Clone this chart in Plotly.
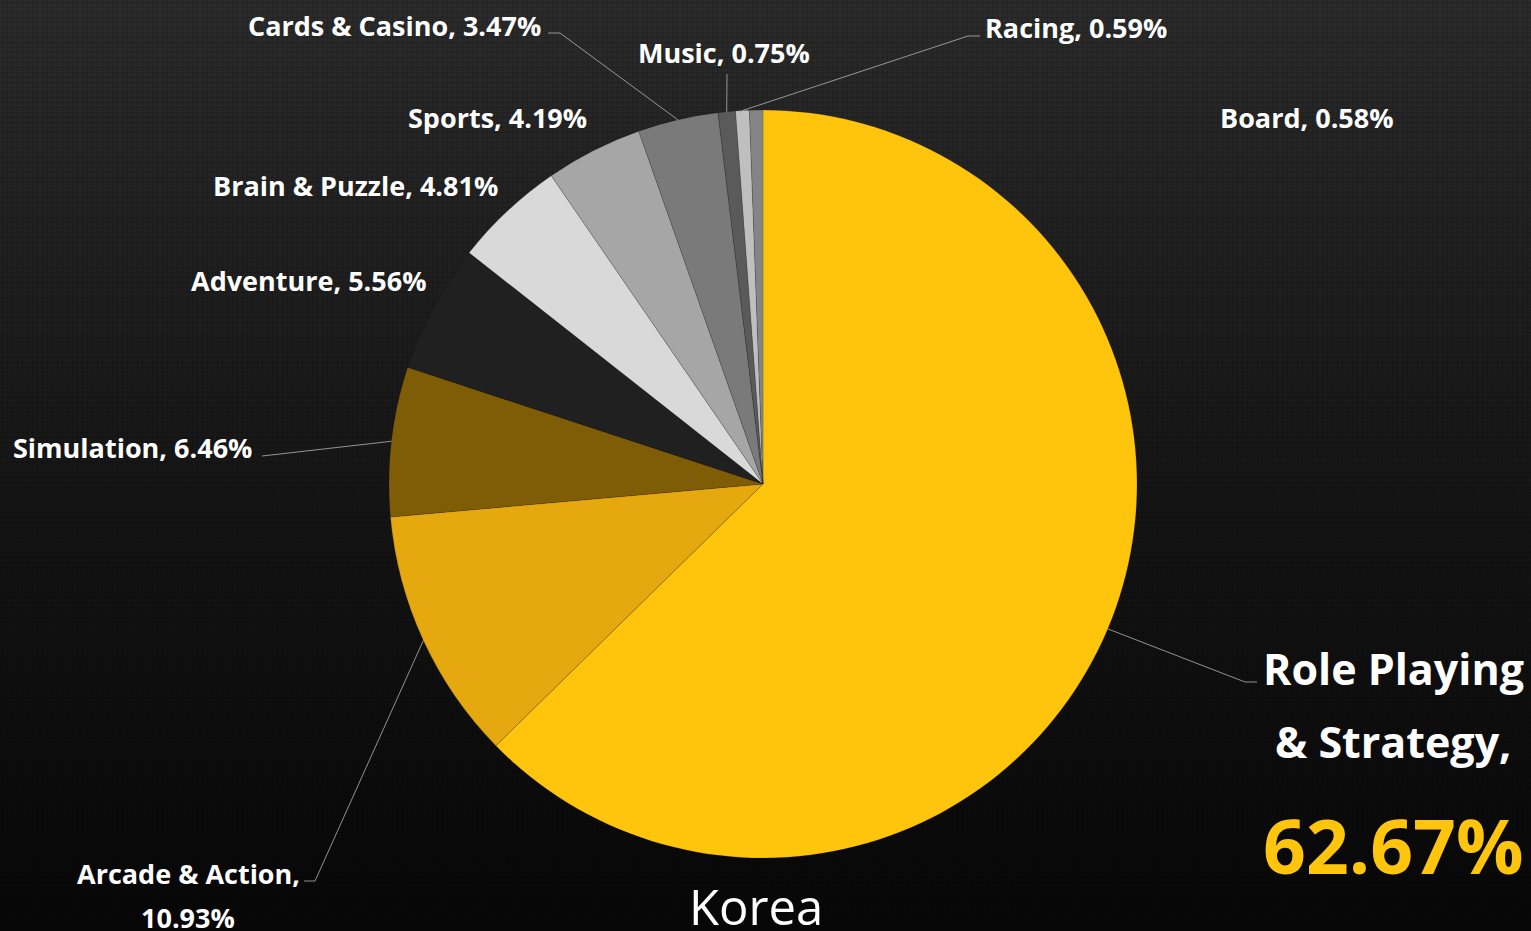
import math

import plotly.graph_objects as go

# data: share of game downloads by genre (Korea)
genres = ["Role Playing & Strategy", "Arcade & Action", "Simulation", "Adventure",
          "Brain & Puzzle", "Sports", "Cards & Casino", "Music", "Racing", "Board"]
shares = [62.67, 10.93, 6.46, 5.56, 4.81, 4.19, 3.47, 0.75, 0.59, 0.58]
colors = ["#FFC40C", "#E6A80F", "#7F5D07", "#202020", "#D9D9D9",
          "#A6A6A6", "#7A7A7A", "#5A5A5A", "#BFBFBF", "#858585"]
country = "Korea"

W, H = 1531, 931
CX, CY, R = 763, 484, 374  # pie centre / radius in pixels


def px(x):
    return x / W


def py(y):
    return 1 - y / H


# label placement (pixels): x, y, anchor ; leader: elbow, stub end
label_pos = {
    "Cards & Casino": (543, 26, "right", [(560, 33), (548, 33)]),
    "Music": (724, 52, "center", [(727, 74)]),
    "Racing": (983, 27, "left", [(968, 36), (980, 36)]),
    "Board": (1218, 117, "left", None),
    "Sports": (589, 118, "right", None),
    "Brain & Puzzle": (500, 186, "right", None),
    "Adventure": (429, 280, "right", None),
    "Simulation": (254, 447, "right", [(262, 456)]),
}

fig = go.Figure()

# dark gradient backdrop
fig.add_trace(go.Scatter(
    x=[0, 1, 1, 0, 0], y=[0, 0, 1, 1, 0], mode="lines", fill="toself",
    line=dict(width=0),
    fillgradient=dict(type="vertical",
                      colorscale=[[0, "#070707"], [0.45, "#141414"], [1, "#2b2b2b"]]),
    hoverinfo="skip", showlegend=False,
))
# fine grid texture on top of it
fig.add_trace(go.Scatter(
    x=[0, 1, 1, 0, 0], y=[0, 0, 1, 1, 0], mode="lines", fill="toself",
    line=dict(width=0), fillcolor="rgba(0,0,0,0)",
    fillpattern=dict(shape="+", fgcolor="rgba(0,0,0,0.45)", bgcolor="rgba(0,0,0,0)",
                     size=5, solidity=0.25),
    hoverinfo="skip", showlegend=False,
))

fig.add_trace(go.Pie(
    labels=genres, values=shares, sort=False, direction="clockwise", rotation=0,
    marker=dict(colors=colors, line=dict(color="rgba(0,0,0,0.25)", width=0.6)),
    textinfo="none", hoverinfo="label+percent", showlegend=False,
    domain=dict(x=[px(CX - R), px(CX + R)], y=[py(CY + R), py(CY - R)]),
))

# mid angle of every slice (clockwise from 12 o'clock)
total = sum(shares)
mid_angle = {}
acc = 0
for g, s in zip(genres, shares):
    mid_angle[g] = (acc + s / 2) / total * 2 * math.pi
    acc += s


def edge_point(g):
    a = mid_angle[g]
    return CX + R * math.sin(a), CY - R * math.cos(a)


label_font = dict(family="Open Sans", size=27, color="white", weight="bold")
annotations = []
shapes = []


def leader(g, pts):
    p0 = edge_point(g)
    for p1 in pts:
        shapes.append(dict(type="line", xref="paper", yref="paper",
                           x0=px(p0[0]), y0=py(p0[1]), x1=px(p1[0]), y1=py(p1[1]),
                           line=dict(color="rgba(190,190,190,0.75)", width=1)))
        p0 = p1


for g, s in zip(genres, shares):
    if g in label_pos:
        x, y, anchor, pts = label_pos[g]
        annotations.append(dict(text=f"{g}, {s:.2f}%", x=px(x), y=py(y),
                                xref="paper", yref="paper", xanchor=anchor,
                                yanchor="middle", showarrow=False, font=label_font))
        if pts:
            leader(g, pts)

# Arcade & Action on two lines
annotations.append(dict(text=f"{genres[1]},", x=px(188), y=py(873), xref="paper", yref="paper",
                        xanchor="center", yanchor="middle", showarrow=False, font=label_font))
annotations.append(dict(text=f"{shares[1]:.2f}%", x=px(188), y=py(917), xref="paper", yref="paper",
                        xanchor="center", yanchor="middle", showarrow=False, font=label_font))
leader(genres[1], [(315, 881), (304, 881)])

# Role Playing & Strategy, large call-out
big_font = dict(family="Open Sans", size=43, color="white", weight="bold")
annotations.append(dict(text="Role Playing", x=px(1393), y=py(668), xref="paper", yref="paper",
                        xanchor="center", yanchor="middle", showarrow=False, font=big_font))
annotations.append(dict(text="& Strategy,", x=px(1393), y=py(741), xref="paper", yref="paper",
                        xanchor="center", yanchor="middle", showarrow=False, font=big_font))
annotations.append(dict(text=f"{shares[0]:.2f}%", x=px(1393), y=py(845), xref="paper", yref="paper",
                        xanchor="center", yanchor="middle", showarrow=False,
                        font=dict(family="Open Sans", size=75, color="#FFC40C", weight="bold")))
leader(genres[0], [(1245, 682), (1257, 682)])

# country caption
annotations.append(dict(text=country, x=px(756), y=py(906), xref="paper", yref="paper",
                        xanchor="center", yanchor="middle", showarrow=False,
                        font=dict(family="Open Sans", size=49, color="white")))

fig.update_layout(
    width=W, height=H, margin=dict(l=0, r=0, t=0, b=0),
    paper_bgcolor="#111111", plot_bgcolor="rgba(0,0,0,0)",
    xaxis=dict(visible=False, range=[0, 1], domain=[0, 1], fixedrange=True),
    yaxis=dict(visible=False, range=[0, 1], domain=[0, 1], fixedrange=True),
    annotations=annotations, shapes=shapes,
)

fig.write_html("out.html", post_script="document.body.style.margin='0';",
               config={"displayModeBar": False})
